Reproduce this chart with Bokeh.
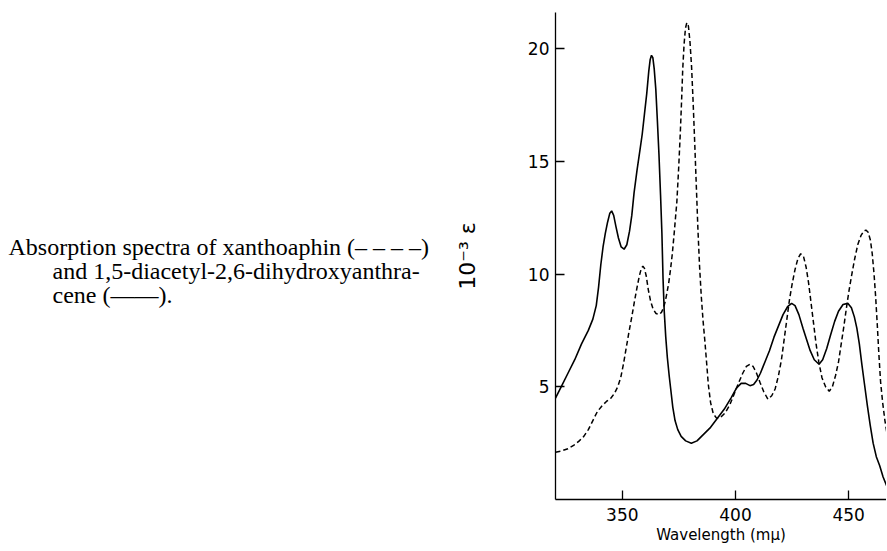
from bokeh.plotting import figure
from bokeh.models import FixedTicker, Range1d
from bokeh.layouts import row
from bokeh.core.properties import value
from bokeh.embed import file_html
from bokeh.resources import INLINE

# Solid curve: 1,5-diacetyl-2,6-dihydroxyanthracene (10^-3 eps vs wavelength, m-mu)
solid_x = [320.5, 323, 326, 329, 332, 335, 337, 338.5, 339.5, 340.5, 341.5, 342.5, 343.5, 344.5,
           345.3, 346.2, 347.2, 348.3, 349.5, 350.8, 352, 353.2, 354.2, 355.2, 356.5, 357.8, 358.8,
           359.8, 360.8, 361.7, 362.3, 362.9, 363.5, 364.1, 364.8, 365.5, 366.2, 366.9, 367.5, 368.0,
           368.5, 369.2, 369.9, 370.7, 371.5, 372.3, 373.3, 374.5, 376, 378, 380.5, 383, 386, 389,
           392, 395, 398, 400.5, 402.5, 404.5, 406.4, 408, 409.5, 411, 413, 415, 417, 419, 421, 423,
           424.8, 426.3, 428, 429.8, 431.4, 433, 434.8, 436.9, 438.5, 440.3, 442, 443.8, 445.5, 447.5,
           449.6, 451.2, 452.5, 453.6, 454.7, 455.8, 457, 458.2, 459.5, 460.8, 462.2, 463.7, 465.2,
           466.8]
solid_y = [4.5, 5.0, 5.6, 6.2, 6.9, 7.5, 8.0, 8.6, 9.4, 10.4, 11.2, 11.8, 12.3, 12.7,
           12.8, 12.6, 12.1, 11.6, 11.2, 11.1, 11.3, 11.9, 12.6, 13.6, 14.6, 15.5, 16.2,
           17.1, 18.0, 19.0, 19.5, 19.7, 19.6, 19.1, 18.2, 16.8, 15.3, 13.5, 11.8, 9.8,
           8.4, 7.2, 6.3, 5.5, 4.8, 4.1, 3.5, 3.1, 2.8, 2.6, 2.5, 2.6, 2.9, 3.2,
           3.6, 4.0, 4.5, 4.95, 5.15, 5.15, 5.05, 5.1, 5.3, 5.6, 6.1, 6.6, 7.2, 7.7, 8.2, 8.55,
           8.7, 8.6, 8.2, 7.6, 7.1, 6.6, 6.2, 6.0, 6.2, 6.7, 7.3, 7.9, 8.35, 8.65,
           8.7, 8.5, 8.1, 7.6, 6.9, 6.0, 5.1, 4.2, 3.3, 2.5, 1.9, 1.5, 1.0,
           0.6]

# Dashed curve: xanthoaphin
dash_x = [320.5, 323, 326, 328.5, 331, 333, 335, 337, 339, 341, 343, 345, 346.5, 348, 349.3,
          350.5, 351.7, 352.9, 354.2, 355.4, 356.5, 357.5, 358.4, 359.1, 359.8, 360.6, 361.5,
          362.5, 363.6, 364.9, 366.2, 367.3, 368.2, 369.0, 369.6, 370.5, 371.3, 372.1, 373.0,
          374.1, 374.9, 375.6, 376.2, 376.7, 377.3, 377.9, 378.5, 379.2, 379.9, 380.6, 381.3,
          382.0, 382.7, 383.4, 384.1, 384.9, 385.7, 386.5, 387.3, 388.0, 389.0, 390.2, 391.7,
          393.5, 395.5, 397.5, 399.5, 401.5, 403.2, 404.8, 406.4, 407.8, 409.3, 410.8, 412.4,
          414.3, 416, 417.5, 419, 420.3, 421.5, 422.7, 423.9, 425.1, 426.3, 427.6, 428.8, 430,
          431.2, 432.3, 433.4, 434.5, 435.6, 436.8, 438.2, 439.8, 441.4, 442.8, 444.2, 445.5,
          446.7, 447.9, 449, 450.2, 451.4, 452.7, 454, 455.4, 456.6, 457.6, 458.6, 459.6, 460.4,
          461.2, 461.9, 462.6, 463.3, 464.1, 465, 466, 466.8]
dash_y = [2.1, 2.15, 2.25, 2.4, 2.6, 2.8, 3.1, 3.5, 3.9, 4.15, 4.35, 4.5, 4.7, 5.0, 5.4,
          6.0, 6.7, 7.4, 8.1, 8.8, 9.4, 9.9, 10.25, 10.35, 10.25, 9.9, 9.3,
          8.8, 8.45, 8.25, 8.2, 8.3, 8.5, 8.8, 9.1, 9.6, 10.2, 10.9, 11.9,
          13.2, 14.7, 16.2, 17.7, 19.1, 20.2, 20.9, 21.15, 21.0, 20.3, 19.2, 17.6,
          15.8, 13.9, 12.0, 10.4, 9.0, 7.9, 7.0, 6.0, 5.1, 4.3, 3.8, 3.6,
          3.65, 3.85, 4.2, 4.7, 5.2, 5.6, 5.9, 6.0, 5.9, 5.6, 5.2, 4.8,
          4.45, 4.6, 4.9, 5.5, 6.2, 7.1, 8.0, 8.9, 9.6, 10.2, 10.7, 10.9, 10.8,
          10.3, 9.6, 8.7, 7.8, 6.9, 6.1, 5.4, 5.0, 4.8, 5.0, 5.5, 6.1,
          6.9, 7.7, 8.5, 9.3, 10.0, 10.7, 11.3, 11.7, 11.9, 11.95, 11.85, 11.5, 10.9,
          10.0, 9.0, 7.8, 6.5, 5.2, 4.3, 3.5, 3.0]

x_ticks = [350, 400, 450]
y_ticks = [5, 10, 15, 20]
x_label = "Wavelength (m\u03bc)"
y_label = "10\u207b\u00b3 \u03b5"
caption_lines = [
    "Absorption spectra of xanthoaphin (\u2013 \u2013 \u2013 \u2013)",
    "and  1,5-diacetyl-2,6-dihydroxyanthra-",
    "cene (\u2014\u2014).",
]

H = 550
CAP_W = 448
MAIN_W = 438

# ---- caption panel (pixel-like coordinates, y downward) ----
cap = figure(title=None, frame_width=CAP_W, frame_height=H, output_backend="svg",
             toolbar_location=None,
             x_range=Range1d(0, CAP_W), y_range=Range1d(H, 0),
             x_axis_location=None, y_axis_location=None,
             min_border_left=0, min_border_right=0, min_border_top=0, min_border_bottom=0)
cap.outline_line_color = None
cap.grid.visible = False
cap.text(x=[8, 52, 52], y=[234, 258, 282], text=caption_lines,
         text_font=value("Liberation Serif"), text_font_size="24px",
         text_color="black", text_baseline="alphabetic", text_align="left")

# ---- main plot ----
p = figure(title=None, width=MAIN_W, height=H, output_backend="svg", toolbar_location=None,
           x_range=Range1d(320.5, 466.7), y_range=Range1d(0, 21.6),
           min_border_left=107, min_border_right=0, min_border_top=12, min_border_bottom=51)

p.line(solid_x, solid_y, line_color="black", line_width=1.6)
p.line(dash_x, dash_y, line_color="black", line_width=1.5, line_dash="5 3")

p.outline_line_color = None
p.grid.visible = False

for ax in (p.xaxis[0], p.yaxis[0]):
    ax.axis_line_color = "black"
    ax.axis_line_width = 1.3
    ax.major_tick_in = 9
    ax.major_tick_out = 0
    ax.major_tick_line_color = "black"
    ax.major_tick_line_width = 1.3
    ax.minor_tick_line_color = None
    ax.major_label_text_font = "DejaVu Sans"
    ax.major_label_text_font_size = "17px"
    ax.major_label_text_color = "black"
    ax.axis_label_text_font = "DejaVu Sans"
    ax.axis_label_text_font_style = "normal"
    ax.axis_label_text_color = "black"

p.xaxis[0].ticker = FixedTicker(ticks=x_ticks)
p.yaxis[0].ticker = FixedTicker(ticks=y_ticks)
p.xaxis[0].axis_label = x_label
p.xaxis[0].axis_label_text_font_size = "15px"
p.xaxis[0].major_label_standoff = 8
p.xaxis[0].axis_label_standoff = 2
p.yaxis[0].axis_label = y_label
p.yaxis[0].axis_label_text_font_size = "22px"
p.yaxis[0].major_label_standoff = 6
p.yaxis[0].axis_label_standoff = 45

layout = row(cap, p)
open("out.html", "w").write(file_html(layout, INLINE))
